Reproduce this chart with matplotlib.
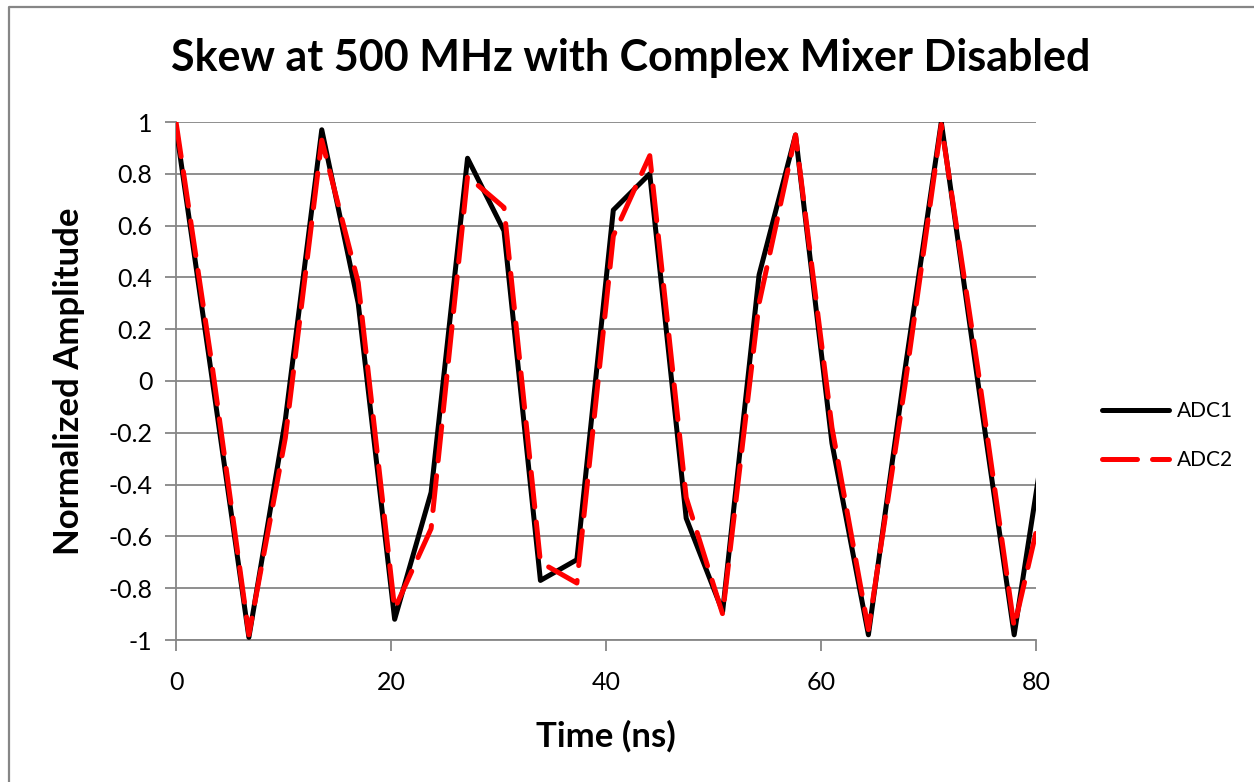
import matplotlib.pyplot as plt
from matplotlib.lines import Line2D
from matplotlib.ticker import FuncFormatter, MultipleLocator

plt.rcParams['font.family'] = ['Lato', 'DejaVu Sans']
plt.rcParams['axes.unicode_minus'] = False

# sample times (ns) and normalized amplitudes
time_ns = [0.0, 3.39, 6.78, 10.17, 13.56, 16.95, 20.34, 23.73, 27.12, 30.51,
           33.9, 37.29, 40.68, 44.07, 47.46, 50.85, 54.24, 57.63, 61.02, 64.41,
           67.8, 71.19, 74.58, 77.97, 81.36]
adc1 = [0.98, 0.0, -0.99, -0.15, 0.97, 0.30, -0.92, -0.43, 0.86, 0.58,
        -0.77, -0.69, 0.66, 0.80, -0.53, -0.89, 0.41, 0.95, -0.24, -0.98,
        0.04, 1.0, 0.0, -0.98, -0.07]
adc2 = [1.0, 0.05, -0.98, -0.22, 0.93, 0.38, -0.88, -0.57, 0.79, 0.67,
        -0.70, -0.78, 0.56, 0.87, -0.45, -0.90, 0.30, 0.95, -0.18, -0.96,
        -0.02, 0.99, 0.05, -0.95, -0.34]

W, H = 1254, 782
fig = plt.figure(figsize=(W / 100, H / 100), dpi=100)
grid_c = '#868686'
# chart-area border (only top and left edges show in the original crop)
fig.lines.append(Line2D([9 / W, 9 / W, 1.0], [0.0, 1 - 7 / H, 1 - 7 / H],
                        transform=fig.transFigure, color=grid_c, lw=1.6))

ax = fig.add_axes([176 / W, (H - 640) / H, 860 / W, 518 / H])

ax.plot(time_ns, adc1, color='black', lw=3.6, solid_joinstyle='round',
        solid_capstyle='round', label='ADC1', zorder=3)
ax.plot(time_ns, adc2, color='#ff0000', lw=3.6, dashes=(7, 3), dash_capstyle='round',
        dash_joinstyle='round', label='ADC2', zorder=4)

ax.set_xlim(0, 80)
ax.set_ylim(-1, 1)
ax.xaxis.set_major_locator(MultipleLocator(20))
ax.yaxis.set_major_locator(MultipleLocator(0.2))
ax.yaxis.set_major_formatter(FuncFormatter(lambda v, p: f'{round(v, 1):g}'))
ax.grid(axis='y', color=grid_c, lw=1.3)
ax.set_axisbelow(True)
for s in ['top', 'right']:
    ax.spines[s].set_visible(False)
for s in ['left', 'bottom']:
    ax.spines[s].set_color(grid_c)
    ax.spines[s].set_linewidth(1.3)
ax.tick_params(axis='both', colors=grid_c, length=8, width=1.3, labelsize=18,
               labelcolor='black')
ax.tick_params(axis='y', pad=9)
ax.tick_params(axis='x', pad=14)

ax.set_xlabel('Time (ns)', fontsize=25, fontweight='bold', labelpad=19)
ax.set_ylabel('Normalized Amplitude', fontsize=25, fontweight='bold', labelpad=17)
fig.text(0.503, 1 - 58 / H, 'Skew at 500 MHz with Complex Mixer Disabled', ha='center',
         va='center', fontsize=31, fontweight='bold')

ax.legend(loc='center left', bbox_to_anchor=(1.055, 0.395), frameon=False, fontsize=15,
          handlelength=3.2, labelspacing=1.4, handletextpad=0.4)

fig.savefig('out.png', dpi=100)
